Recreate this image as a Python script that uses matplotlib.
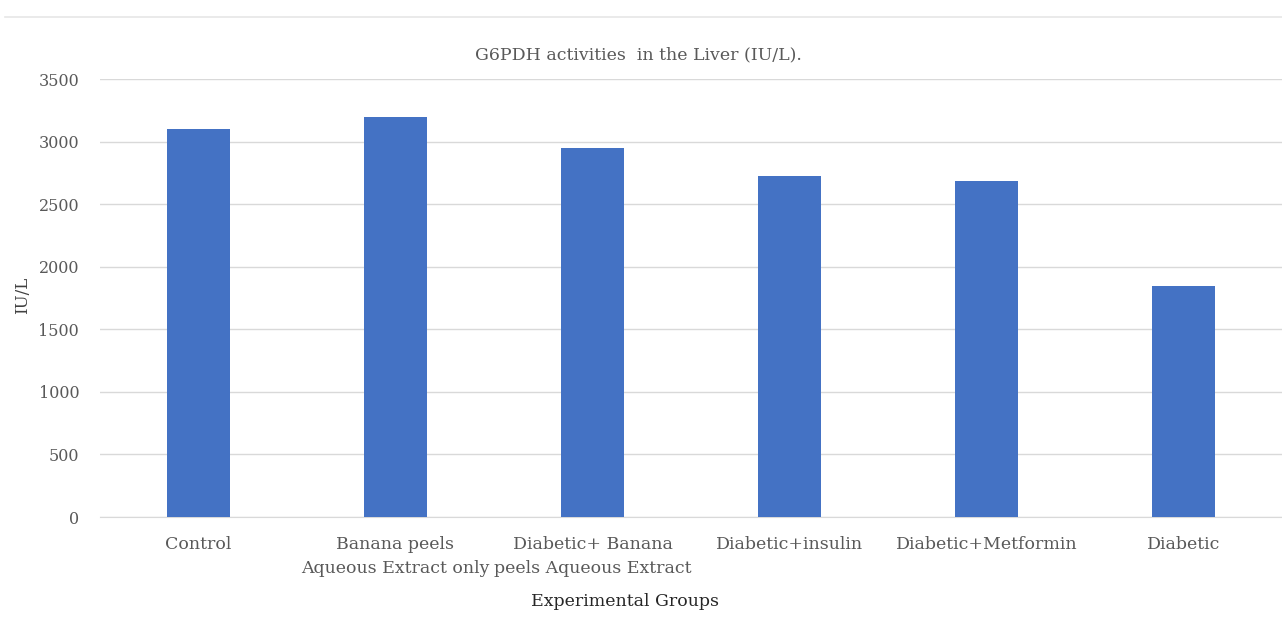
import matplotlib
matplotlib.use("Agg")
import matplotlib.pyplot as plt
from matplotlib.lines import Line2D

categories = ["Control", "Banana peels\nAqueous Extract only", "Diabetic+ Banana\npeels Aqueous Extract",
              "Diabetic+insulin", "Diabetic+Metformin", "Diabetic"]
values = [3100, 3200, 2945, 2728, 2688, 1848]
yticks = [0, 500, 1000, 1500, 2000, 2500, 3000, 3500]

W, H = 1282, 620
fig = plt.figure(figsize=(W/100, H/100), dpi=100)
plt.rcParams['font.family'] = ['DejaVu Serif']
txt = '#595959'

ax = fig.add_axes([100/W, 1-517/H, 1182/W, 438/H])
x = list(range(len(categories)))
ax.bar(x, values, width=0.32, color='#4472C4', zorder=3)
ax.set_xlim(-0.5, len(categories)-0.5)
ax.set_ylim(0, 3500)
ax.set_yticks(yticks)
ax.set_yticklabels([str(v) for v in yticks], fontsize=11.5, color=txt)
ax.set_xticks(x)
ax.set_xticklabels(categories, fontsize=12.5, color=txt, linespacing=1.5)
ax.tick_params(axis='both', length=0)
ax.tick_params(axis='y', pad=15)
ax.tick_params(axis='x', pad=14)
ax.grid(axis='y', color='#D9D9D9', linewidth=1, zorder=0)
for s in ['top', 'right', 'left']:
    ax.spines[s].set_visible(False)
ax.spines['bottom'].set_color('#D9D9D9')

fig.text(638/W, 1-55/H, "G6PDH activities  in the Liver (IU/L).", ha='center', va='center',
         fontsize=12.5, color=txt)
fig.text(23/W, 1-295/H, "IU/L", rotation=90, ha='center', va='center', fontsize=12, color='#404040')
fig.text(625/W, 1-602/H, "Experimental Groups", ha='center', va='center', fontsize=12.5, color='#262626')
fig.add_artist(Line2D([5/W, 1.0], [1-17/H, 1-17/H], color='#E6E6E6', linewidth=1.2, transform=fig.transFigure))

fig.savefig("out.png", dpi=100, facecolor='white')
